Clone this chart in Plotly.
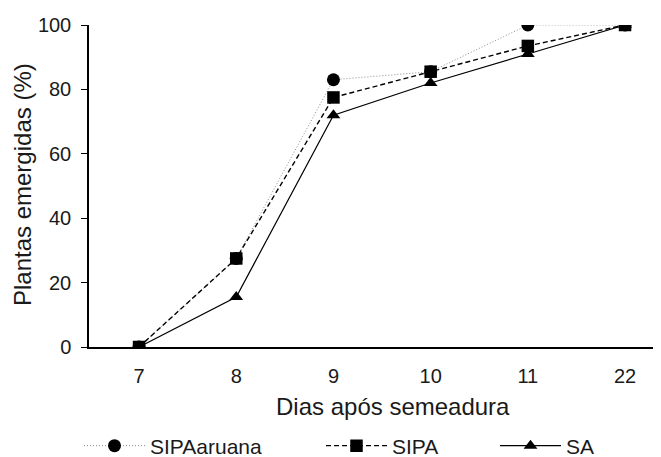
import plotly.graph_objects as go

dias = ["7", "8", "9", "10", "11", "22"]
sipa_aruana = [0, 27.5, 83, 85.5, 100, 100]
sipa = [0, 27.5, 77.5, 85.5, 93.5, 100]
sa = [0, 15.5, 72, 82, 91, 100]

FONT = "Liberation Sans, Arial, sans-serif"
TXT = "#1a1a1a"

# the page body has an 8px margin; the figure is sized/placed to compensate
OFF = 8
W, H = 661 - OFF, 457 - OFF

def cx(px):  # page x -> container fraction
    return (px - OFF) / W

def cy(py):  # page y -> container fraction
    return 1 - (py - OFF) / H

fig = go.Figure()
fig.add_trace(go.Scatter(
    x=dias, y=sa, name="SA", mode="lines+markers", legend="legend3",
    line=dict(color="black", width=1.2),
    marker=dict(symbol="triangle-up", size=12, color="black"),
))
fig.add_trace(go.Scatter(
    x=dias, y=sipa_aruana, name="SIPAaruana", mode="lines+markers", legend="legend",
    line=dict(color="#8c8c8c", width=1, dash="1px,2px"),
    marker=dict(symbol="circle", size=13, color="black"),
))
fig.add_trace(go.Scatter(
    x=dias, y=sipa, name="SIPA", mode="lines+markers", legend="legend2",
    line=dict(color="black", width=1.4, dash="5px,3px"),
    marker=dict(symbol="square", size=12.5, color="black"),
))

leg_common = dict(orientation="h", xref="container", yref="container",
                  yanchor="middle", xanchor="left", y=cy(446),
                  font=dict(size=21, color=TXT), bgcolor="rgba(0,0,0,0)",
                  itemwidth=61)

fig.update_layout(
    width=W, height=H,
    margin=dict(l=89 - OFF, r=0, t=25 - OFF, b=H - (347 - OFF)),
    paper_bgcolor="white", plot_bgcolor="white",
    font=dict(family=FONT, size=20, color=TXT),
    showlegend=True,
    legend=dict(leg_common, x=cx(79)),
    legend2=dict(leg_common, x=cx(321)),
    legend3=dict(leg_common, x=cx(495)),
    xaxis=dict(
        type="category", range=[-0.515, 5.37],
        showline=True, linecolor="black", linewidth=1.5,
        ticks="", showgrid=False, zeroline=False,
        tickfont=dict(size=20, color=TXT), ticklabelstandoff=10,
    ),
    yaxis=dict(
        range=[0, 100], tickvals=[0, 20, 40, 60, 80, 100],
        showline=True, linecolor="black", linewidth=1.5,
        ticks="outside", ticklen=6, tickcolor="black", tickwidth=1,
        showgrid=False, zeroline=False,
        tickfont=dict(size=20, color=TXT), ticklabelstandoff=6,
    ),
    annotations=[
        dict(text="Dias após semeadura", xref="paper", yref="paper",
             x=(393 - 89) / 572, y=(347 - 407) / 322, xanchor="center", yanchor="middle",
             showarrow=False, font=dict(size=24, color=TXT)),
        dict(text="Plantas emergidas (%)", xref="paper", yref="paper",
             x=(22 - 89) / 572, y=0.503, xanchor="center", yanchor="middle",
             textangle=-90, showarrow=False, font=dict(size=24, color=TXT)),
    ],
)

fig.write_html("out.html")
